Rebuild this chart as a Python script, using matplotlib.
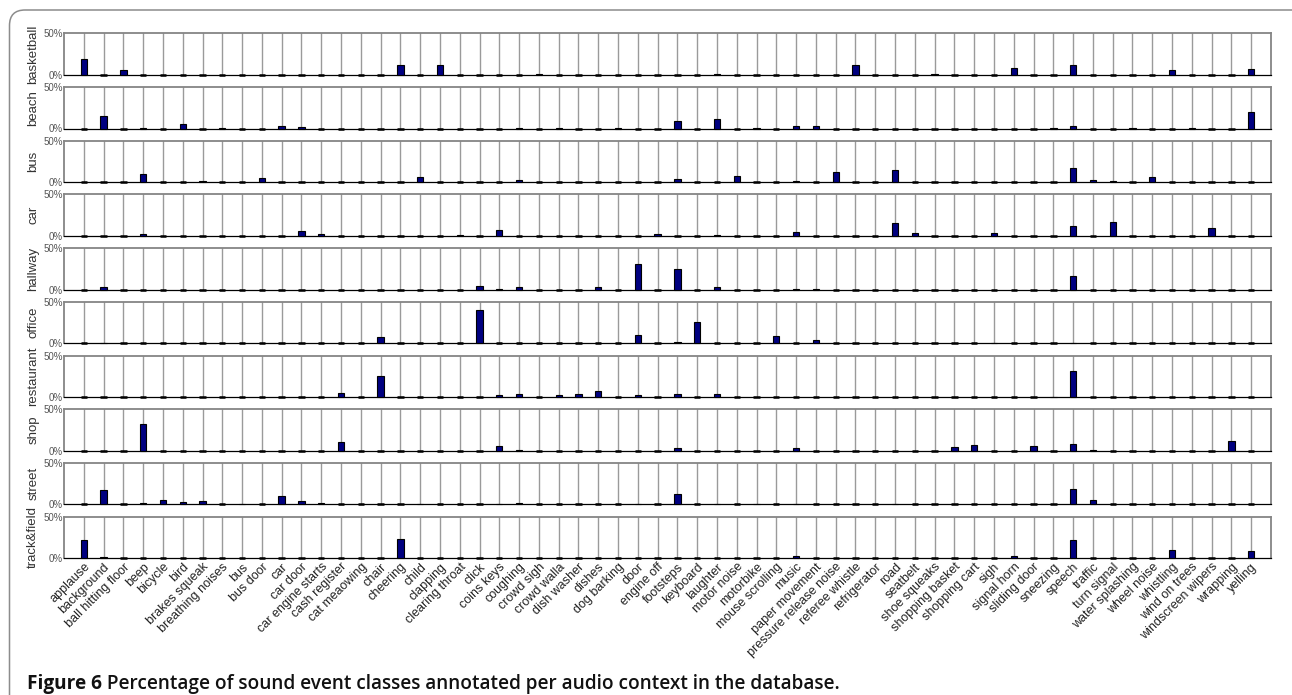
import matplotlib
matplotlib.use("Agg")
import matplotlib.pyplot as plt
from matplotlib.patches import FancyBboxPatch
import numpy as np

plt.rcParams['font.family'] = ['Liberation Sans', 'DejaVu Sans']

categories = ["applause", "background", "ball hitting floor", "beep", "bicycle", "bird",
              "brakes squeak", "breathing noises", "bus", "bus door", "car", "car door",
              "car engine starts", "cash register", "cat meaowing", "chair", "cheering", "child",
              "clapping", "clearing throat", "click", "coins keys", "coughing", "crowd sigh",
              "crowd walla", "dish washer", "dishes", "dog barking", "door", "engine off",
              "footsteps", "keyboard", "laughter", "motor noise", "motorbike", "mouse scrolling",
              "music", "paper movement", "pressure release noise", "referee whistle",
              "refrigerator", "road", "seatbelt", "shoe squeaks", "shopping basket",
              "shopping cart", "sigh", "signal horn", "sliding door", "sneezing", "speech",
              "traffic", "turn signal", "water splashing", "wheel noise", "whistling",
              "wind on trees", "windscreen wipers", "wrapping", "yelling"]

contexts = ["basketball", "beach", "bus", "car", "hallway", "office",
            "restaurant", "shop", "street", "track&field"]

basketball = [18.8, 0, 5.6, 0, 0, 0, 0, 0, 0, 0,
              0, 0, 0, 0, 0, 0, 12.0, 0, 11.6, 0,
              0, 0, 0, 0.5, 0, 0, 0, 0, 0, 0,
              0, 0, 0.5, 0, 0, 0, 0, 0, 0, 11.6,
              0, 0, 0, 1.5, 0, 0, 0, 8.0, 0, 0,
              12.0, 0, 0, 0, 0, 5.6, 0, 0, 0, 6.8]
beach = [0, 14.8, 0, 1.2, 0, 5.2, 0, 1.0, 0, 0,
         2.8, 2.0, 0, 0, 0, 0, 0, 0, 0, 0,
         0, 0, 0.8, 0, 0.4, 0, 0, 0.8, 0, 0,
         9.6, 0, 11.2, 0, 0.8, 0, 2.8, 3.6, 0, 0,
         0, 0, 0, 0, 0, 0, 0, 0, 0, 0.5,
         2.8, 0, 0, 0.8, 0, 0, 0.8, 0, 0, 20.4]
bus = [0, 0, 0, 10.0, 0, 0, 2.0, 0, 0, 5.6,
       0, 0, 0, 0, 0, 0, 0, 6.4, 0, 0,
       0, 0, 2.4, 0, 0, 0, 0, 0, 0, 0,
       3.6, 0, 0, 7.2, 0, 0, 1.6, 0, 12.0, 0,
       0, 15.2, 0, 0, 0, 0, 0, 0, 0, 0,
       16.8, 2.8, 1.0, 0, 6.8, 0, 0, 0, 0, 0]
car = [0, 0, 0, 2.4, 0, 0, 0, 0, 0, 0,
       0, 6.0, 2.4, 0, 0, 0, 0, 0, 0, 1.6,
       0, 7.6, 0, 0, 0, 0, 0, 0, 0, 2.0,
       0, 0, 0.8, 0, 0, 0, 4.8, 0, 0, 0,
       0, 15.2, 3.6, 0, 0, 0, 3.2, 0, 0, 0,
       11.6, 0, 16.8, 0, 0, 0, 0, 9.6, 0, 0]
hallway = [0, 3.3, 0, 0, 0, 0, 0, 0, 0, 0,
           0, 0, 0, 0, 0, 0, 0, 0, 0, 0,
           4.0, 0.5, 2.9, 0, 0, 0, 2.9, 0, 31.4, 0,
           24.9, 0, 2.9, 0, 0, 0, 0.5, 0.8, 0, 0,
           0, 0, 0, 0, 0, 0, 0, 0, 0, 0,
           15.9, 0, 0, 0, 0, 0, 0, 0, 0, 0]
office = [0, 0.5, 0, 0, 0, 0, 0, 0, 0, 0,
          0, 0, 0, 0, 0, 7.3, 0, 0, 0, 0,
          39.6, 0, 0, 0, 0, 0, 0, 0, 9.8, 0,
          1.0, 26.0, 0, 0, 0, 9.0, 0, 3.7, 0, 0,
          0, 0, 0, 0, 0, 0, 0.8, 0, 0, 0,
          0.5, 0, 0, 0, 0, 0, 0, 0, 0, 0]
restaurant = [0, 0, 0, 0, 0, 0, 0, 0, 0, 0,
              0, 0, 0, 5.3, 0, 25.3, 0, 0, 0, 0,
              0, 2.0, 4.0, 0, 2.0, 3.3, 7.3, 0, 2.9, 0,
              4.0, 0, 4.0, 0, 0, 0, 0, 0, 0, 0,
              0, 0, 0, 0, 0, 0, 0, 0, 0, 0.5,
              31.4, 0, 0, 0, 0, 0, 0, 0, 0, 0]
shop = [0, 0, 0, 32.6, 0, 0, 0, 0, 0, 0,
        0, 0, 0, 11.0, 0, 0, 0, 0, 0, 0,
        0, 5.7, 0.5, 0, 0, 0, 0, 0, 0, 0,
        3.7, 0, 0, 0, 0, 0, 2.9, 0, 0, 0,
        0, 0, 0, 0, 4.5, 6.9, 0, 0, 6.1, 0,
        8.2, 0.5, 0, 0, 0, 0, 0, 0, 11.4, 0]
street = [0, 17.6, 0, 1.6, 5.7, 2.9, 4.5, 0, 0.8, 0,
          10.2, 4.5, 1.2, 0, 0, 0, 0, 0.8, 0, 0,
          0, 0.8, 1.2, 0, 0, 0, 0, 0, 0.8, 0,
          12.3, 0, 0.4, 0, 0.8, 0, 0.8, 0, 0, 0,
          0, 0.8, 0, 0, 0, 0, 0, 0, 0, 0,
          18.4, 5.3, 0, 0, 0, 0, 0, 0, 0, 0]
track_field = [21.7, 1.6, 0, 0, 0, 0, 0, 0, 0, 0,
               0, 0, 0, 0, 0, 0, 23.0, 0, 0, 0,
               0, 0, 0, 0, 0, 0, 0, 0, 0, 0,
               0, 0, 0, 0, 0, 0, 2.9, 0, 0, 0,
               0, 0, 0, 0, 0, 0, 0, 2.9, 0, 0,
               21.7, 0, 0, 0, 0, 9.8, 0, 0, 0, 8.2]

series = [basketball, beach, bus, car, hallway, office, restaurant, shop, street, track_field]
ytick_labels = ["0%", "50%"]
caption_bold = "Figure 6"
caption_rest = " Percentage of sound event classes annotated per audio context in the database."

W, H = 1292, 695
fig = plt.figure(figsize=(W / 100, H / 100), dpi=100)

# rounded frame
frame = FancyBboxPatch((9.5 / W, -20 / H), (W + 30) / W, (H - 10 + 20) / H,
                       boxstyle="round,pad=0,rounding_size=0.012",
                       transform=fig.transFigure, fill=False,
                       edgecolor="#8c8c8c", linewidth=1.1, mutation_aspect=W / H)
fig.patches.append(frame)

left_px, right_px = 64, 1271
top0, period, ph = 33.3, 53.7, 41.5
x = np.arange(len(categories))
grid_col = "#9a9a9a"

for i, (name, vals) in enumerate(zip(contexts, series)):
    top = top0 + i * period
    ax = fig.add_axes([left_px / W, 1 - (top + ph) / H, (right_px - left_px) / W, ph / H])
    lws = [1.8 if v == 0 else 0.8 for v in vals]
    ax.bar(x, vals, width=0.32, color="#000080", edgecolor="black", linewidth=lws,
           zorder=3, clip_on=False)
    ax.set_xlim(-1, len(categories))
    ax.set_ylim(0, 50)
    ax.set_xticks(x)
    ax.grid(axis="x", color=grid_col, linewidth=1.0, zorder=0)
    ax.set_axisbelow(True)
    ax.set_yticks([0, 50])
    ax.set_yticklabels(ytick_labels, fontsize=7, color="#555555")
    ax.tick_params(axis="y", length=0, pad=1)
    ax.tick_params(axis="x", length=0, pad=2)
    for s in ("top", "left", "right"):
        ax.spines[s].set_color("#858585")
        ax.spines[s].set_linewidth(1.3)
    ax.spines["bottom"].set_color("black")
    ax.spines["bottom"].set_linewidth(0.9)
    ax.set_ylabel(name, fontsize=9.5, color="#333333")
    ax.yaxis.set_label_coords(-0.0205, 0.5)
    if i == len(contexts) - 1:
        ax.set_xticklabels(categories, rotation=45, ha="right", rotation_mode="anchor",
                           fontsize=9, color="#222222")
    else:
        ax.set_xticklabels([])

cy = 1 - 684 / H
t1 = fig.text(27 / W, cy, caption_bold, fontsize=13.7, fontweight="bold",
              family=["Open Sans", "DejaVu Sans"], va="center", ha="left", color="#111111")
fig.canvas.draw()
bb = t1.get_window_extent()
fig.text(bb.x1 / W, cy, caption_rest, fontsize=13.7, fontweight="semibold",
         family=["Open Sans", "DejaVu Sans"], va="center", ha="left", color="#111111")

fig.savefig("out.png", dpi=100)
